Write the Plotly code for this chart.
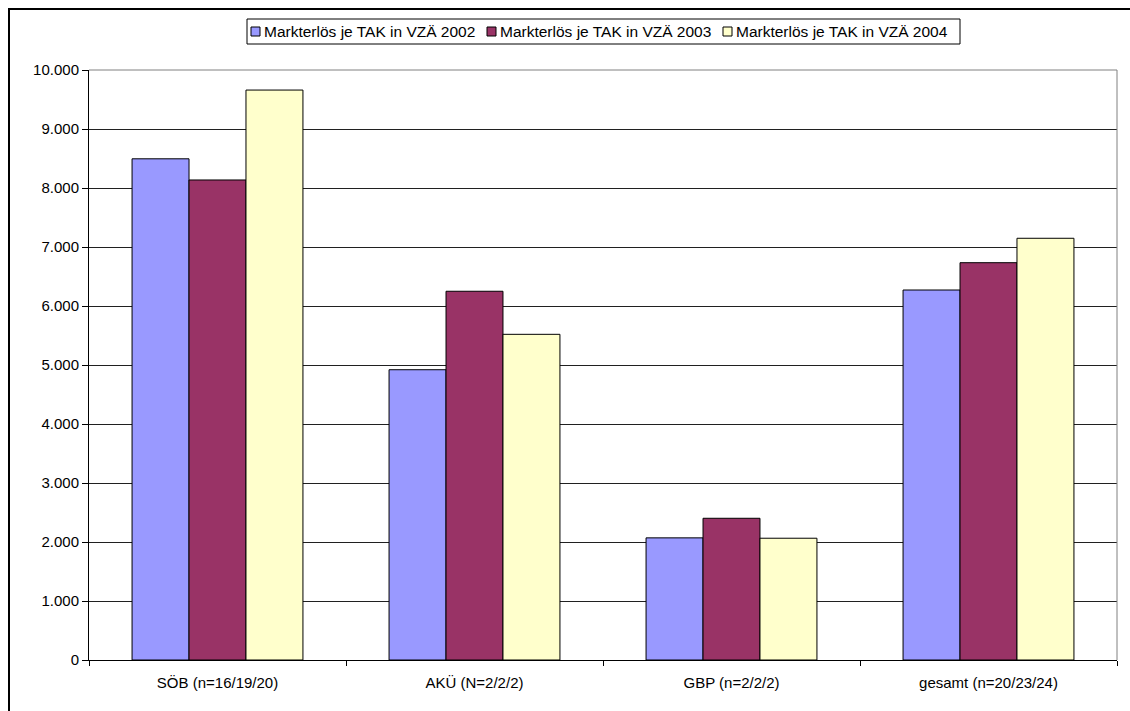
import plotly.graph_objects as go

categories = ["SÖB (n=16/19/20)", "AKÜ (N=2/2/2)", "GBP (n=2/2/2)", "gesamt (n=20/23/24)"]
series_names = ["Markterlös je TAK in VZÄ 2002", "Markterlös je TAK in VZÄ 2003", "Markterlös je TAK in VZÄ 2004"]
values_2002 = [8495, 4920, 2070, 6271]
values_2003 = [8136, 6250, 2402, 6734]
values_2004 = [9660, 5520, 2064, 7148]
colors = ["#9999FF", "#993366", "#FFFFCC"]
y_ticks = list(range(0, 10001, 1000))

W, H = 1130, 711
L, R, T, B = 89, 1117, 70, 660
FONT = "Liberation Sans, Arial, sans-serif"
FS = 15
LFS = 15.5

def px(x):
    return (x - L) / (R - L)

def py(y):
    return (B - y) / (B - T)

fig = go.Figure()
for name, vals, col in zip(series_names, [values_2002, values_2003, values_2004], colors):
    fig.add_trace(go.Bar(
        x=categories, y=vals, name=name,
        marker=dict(color=col, line=dict(color="#000000", width=1)),
        showlegend=False,
    ))

shapes = []
# outer chart frame (extends off canvas at right/bottom)
shapes.append(dict(type="rect", xref="paper", yref="paper",
                   x0=px(9), x1=px(1240), y0=py(800), y1=py(9),
                   line=dict(color="#000000", width=2), fillcolor="rgba(0,0,0,0)"))
# plot area gray top/right border
shapes.append(dict(type="line", xref="paper", yref="paper", x0=0, x1=1, y0=1, y1=1,
                   line=dict(color="#808080", width=1)))
shapes.append(dict(type="line", xref="paper", yref="paper", x0=1, x1=1, y0=0, y1=1,
                   line=dict(color="#808080", width=1)))
# legend box
shapes.append(dict(type="rect", xref="paper", yref="paper",
                   x0=px(247), x1=px(960), y0=py(44), y1=py(19),
                   line=dict(color="#000000", width=1), fillcolor="#FFFFFF"))

annotations = []
sq_x = [251, 487, 723]
for sx, name, col in zip(sq_x, series_names, colors):
    shapes.append(dict(type="rect", xref="paper", yref="paper",
                       x0=px(sx), x1=px(sx + 9), y0=py(36), y1=py(27),
                       line=dict(color="#000000", width=1), fillcolor=col))
    annotations.append(dict(xref="paper", yref="paper", x=px(sx + 11), y=py(31.5),
                            xanchor="left", yanchor="middle", showarrow=False,
                            text=name, font=dict(family=FONT, size=LFS, color="#000000")))

fig.update_layout(
    width=W, height=H,
    margin=dict(l=L, r=W - R, t=T, b=H - B, pad=0),
    paper_bgcolor="#FFFFFF", plot_bgcolor="#FFFFFF",
    barmode="group", bargap=0.335, bargroupgap=0,
    separators=",.",
    font=dict(family=FONT, size=FS, color="#000000"),
    shapes=shapes, annotations=annotations,
    showlegend=False,
)
fig.update_xaxes(
    type="category", showline=True, linecolor="#000000", linewidth=1,
    ticks="outside", tickson="boundaries", ticklen=5, tickcolor="#000000",
    ticklabelstandoff=9,
    showgrid=False, tickfont=dict(family=FONT, size=FS, color="#000000"),
)
fig.update_yaxes(
    range=[0, 10000], tickvals=y_ticks, tickformat=",d",
    showline=True, linecolor="#000000", linewidth=1,
    ticks="outside", ticklen=6, tickcolor="#000000",
    showgrid=True, gridcolor="#202020", gridwidth=1, zeroline=False,
    tickfont=dict(family=FONT, size=FS, color="#000000"),
)
fig.write_html("out.html")
